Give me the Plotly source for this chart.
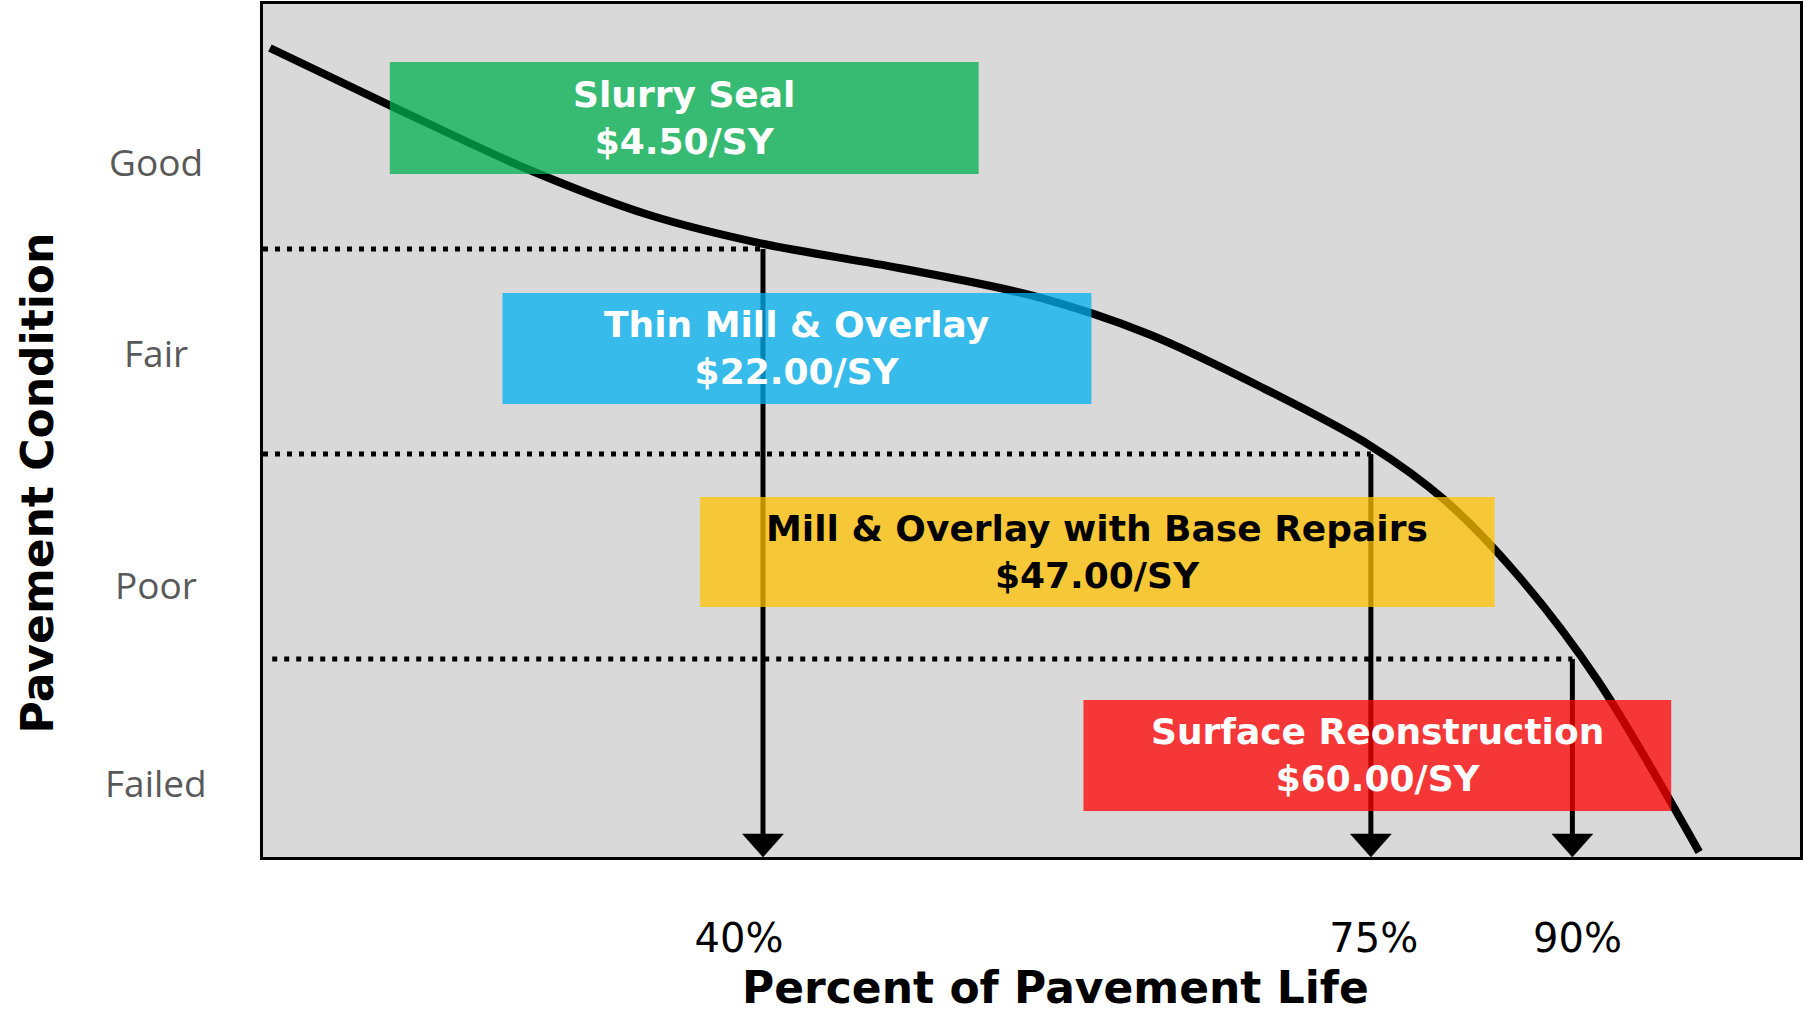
import plotly.graph_objects as go

# ---------------- data (chart units: x = position along life, y = condition index) ----
curve_x = [0.45, 8.90, 17.34, 25.13, 32.60, 41.36, 50.13, 57.60, 65.06, 72.08,
           76.88, 81.62, 86.82, 93.44]
curve_y = [94.84, 87.57, 80.54, 75.26, 71.86, 69.05, 65.77, 61.31, 54.98, 48.18,
           41.85, 33.06, 20.75, 0.59]

# threshold lines: level, start, end (arrow position)
threshold_y = [71.28, 47.25, 23.21]
threshold_x0 = [0.0, 0.0, 0.6]
arrow_x = [32.53, 72.08, 85.19]

# x tick labels
tick_vals = [30.97, 72.27, 85.52]
tick_text = ["40%", "75%", "90%"]

# condition categories
cond_labels = ["Good", "Fair", "Poor", "Failed"]
cond_y = [81.48, 59.09, 31.89, 8.68]

# treatments
treat_names = ["Slurry Seal", "Thin Mill &amp; Overlay", "Mill &amp; Overlay with Base Repairs",
               "Surface Reonstruction"]
treat_cost = ["$4.50/SY", "$22.00/SY", "$47.00/SY", "$60.00/SY"]
box_x0 = [8.25, 15.58, 28.44, 53.38]
box_x1 = [46.56, 53.90, 80.13, 91.62]
box_y0 = [80.07, 53.11, 29.31, 5.39]
box_y1 = [93.20, 66.12, 42.20, 18.41]
box_color = ["#00B050", "#00B0F0", "#FFC000", "#FF0000"]
text_color = ["white", "white", "black", "white"]

HEAD_W = 2.66   # arrow head width (x units)
HEAD_H = 2.70   # arrow head height (y units)

fig = go.Figure()

# curve
fig.add_trace(go.Scatter(x=curve_x, y=curve_y, mode="lines",
                         line=dict(color="black", width=8, shape="spline", smoothing=0.9),
                         hoverinfo="skip", showlegend=False))

for ty, tx0, ax in zip(threshold_y, threshold_x0, arrow_x):
    # dotted level line
    fig.add_trace(go.Scatter(x=[tx0, ax], y=[ty, ty], mode="lines",
                             line=dict(color="black", width=5, dash="5px,7px"),
                             hoverinfo="skip", showlegend=False))
    # arrow shaft
    fig.add_trace(go.Scatter(x=[ax, ax], y=[ty, HEAD_H * 0.5], mode="lines",
                             line=dict(color="black", width=5),
                             hoverinfo="skip", showlegend=False))
    # arrow head
    fig.add_trace(go.Scatter(x=[ax - HEAD_W / 2, ax + HEAD_W / 2, ax, ax - HEAD_W / 2],
                             y=[HEAD_H, HEAD_H, 0, HEAD_H], mode="lines", fill="toself",
                             fillcolor="black", line=dict(color="black", width=0.5),
                             hoverinfo="skip", showlegend=False))

# treatment boxes (semi-transparent, above traces)
for x0, x1, y0, y1, c in zip(box_x0, box_x1, box_y0, box_y1, box_color):
    fig.add_shape(type="rect", x0=x0, x1=x1, y0=y0, y1=y1, xref="x", yref="y",
                  fillcolor=c, opacity=0.75, line=dict(width=0), layer="above")

for x0, x1, y0, y1, n, cst, tc in zip(box_x0, box_x1, box_y0, box_y1, treat_names, treat_cost, text_color):
    fig.add_annotation(x=(x0 + x1) / 2, y=(y0 + y1) / 2, xref="x", yref="y",
                       text=f"<b>{n}<br>{cst}</b>", showarrow=False,
                       font=dict(family="DejaVu Sans", size=36, color=tc),
                       xanchor="center", yanchor="middle")

# condition labels
for lab, yy in zip(cond_labels, cond_y):
    fig.add_annotation(x=-0.0695, y=yy, xref="paper", yref="y", text=lab, showarrow=False,
                       font=dict(family="Open Sans", size=37, color="#595959"),
                       xanchor="center", yanchor="middle")

# axis titles
fig.add_annotation(x=-0.1461, y=0.4385, xref="paper", yref="paper",
                   text="<b>Pavement Condition</b>", textangle=-90, showarrow=False,
                   font=dict(family="DejaVu Sans", size=44, color="black"),
                   xanchor="center", yanchor="middle")
fig.add_annotation(x=0.5156, y=-0.1535, xref="paper", yref="paper",
                   text="<b>Percent of Pavement Life</b>", showarrow=False,
                   font=dict(family="DejaVu Sans", size=44, color="black"),
                   xanchor="center", yanchor="middle")

fig.update_xaxes(range=[0, 100], showgrid=False, zeroline=False,
                 showline=True, linecolor="black", linewidth=2.5, mirror=True,
                 tickmode="array", tickvals=tick_vals, ticktext=tick_text, ticks="",
                 ticklabelstandoff=44,
                 tickfont=dict(family="DejaVu Sans", size=40, color="black"))
fig.update_yaxes(range=[0, 100], showgrid=False, zeroline=False,
                 showline=True, linecolor="black", linewidth=2.5, mirror=True,
                 showticklabels=False, ticks="")

fig.update_layout(width=1803, height=1011, autosize=False,
                  margin=dict(l=263, r=0, t=4, b=154),
                  plot_bgcolor="#D9D9D9", paper_bgcolor="white", showlegend=False)

fig.write_html("out.html", config={"displayModeBar": False},
               post_script="document.body.style.margin='0';document.body.style.overflow='hidden';")
